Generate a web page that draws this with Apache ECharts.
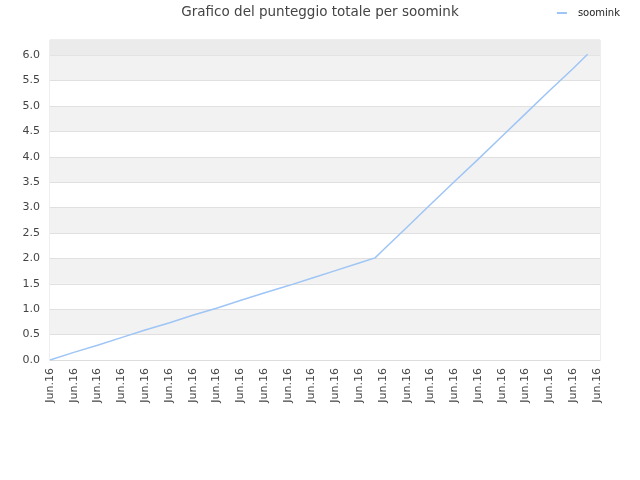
<!DOCTYPE html>
<html>
<head>
<meta charset="utf-8">
<script src="https://cdn.jsdelivr.net/npm/echarts@6/dist/echarts.min.js"></script>
<style>
html,body{margin:0;padding:0;background:#fff;}
#chart{width:640px;height:480px;}
</style>
</head>
<body>
<div id="chart"></div>
<script>
var titleText = 'Grafico del punteggio totale per soomink';
var seriesName = 'soomink';
var tickLabel = 'Jun.16';
// x positions in label steps (0 = first label), y = punteggio
var xPos = [0, 1, 2, 3, 4, 5, 6, 7, 8, 9, 10, 11, 12, 13, 13.67, 14, 15, 16, 17, 18, 19, 20, 21, 22, 22.61];
var scores = [0, 0.15, 0.29, 0.44, 0.59, 0.73, 0.88, 1.02, 1.17, 1.32, 1.46, 1.61, 1.76, 1.91, 2.01, 2.16, 2.61, 3.06, 3.51, 3.95, 4.40, 4.85, 5.30, 5.74, 6.02];

var points = [];
for (var i = 0; i < xPos.length; i++) {
    points.push([xPos[i], scores[i]]);
}

var mychar = echarts.init(document.getElementById('chart'));
mychar.setOption({
    animation: false,
    textStyle: {fontFamily: 'DejaVu Sans'},
    title: {
        text: titleText,
        left: 'center',
        top: 0,
        textStyle: {fontSize: 13.5, fontWeight: 'normal', color: '#444'}
    },
    legend: {
        right: 15,
        top: 3,
        itemWidth: 10,
        itemHeight: 2,
        icon: 'rect',
        textStyle: {fontSize: 10, color: '#222', padding: [0, 0, 0, 6]},
        data: [seriesName]
    },
    grid: {
        left: 50, right: 40, top: 40, bottom: 120,
        show: true,
        borderColor: '#ddd',
        borderWidth: 1,
        backgroundColor: '#fff'
    },
    xAxis: {
        type: 'value',
        min: 0,
        max: 23.13,
        interval: 1,
        axisLine: {lineStyle: {color: '#ddd'}},
        axisTick: {show: false},
        splitLine: {show: false},
        axisLabel: {
            rotate: 90,
            fontSize: 11,
            color: '#444',
            margin: 8,
            showMaxLabel: false,
            formatter: function(){ return tickLabel; }
        }
    },
    yAxis: {
        type: 'value',
        min: 0,
        max: 6.3,
        interval: 0.5,
        axisLine: {show: false},
        axisTick: {show: false},
        axisLabel: {
            fontSize: 11,
            color: '#444',
            margin: 10,
            showMaxLabel: false,
            formatter: function(v){ return v.toFixed(1); }
        },
        splitLine: {lineStyle: {color: '#e0e0e0'}},
        splitArea: {show: true, areaStyle: {color: ['#ffffff', '#f2f2f2']}}
    },
    series: [{
        name: seriesName,
        type: 'line',
        data: points,
        showSymbol: false,
        symbol: 'none',
        lineStyle: {color: '#9ec5f5', width: 1.5},
        itemStyle: {color: '#9ec5f5'},
        markArea: {
            silent: true,
            itemStyle: {color: '#ebebeb'},
            data: [[{yAxis: 6}, {yAxis: 6.3}]]
        }
    }]
});
</script>
</body>
</html>
